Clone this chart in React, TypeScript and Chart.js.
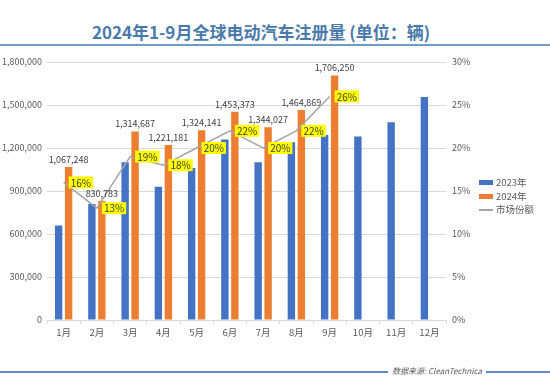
import React, { useEffect, useRef } from 'react';
import { Chart, registerables } from 'chart.js';

Chart.register(...registerables);

const FONT = '"Noto Sans CJK SC", "Noto Sans", sans-serif';

const titleText = '2024年1-9月全球电动汽车注册量 (单位：辆)';
const sourceText = '数据来源: CleanTechnica';

const months = ['1月', '2月', '3月', '4月', '5月', '6月', '7月', '8月', '9月', '10月', '11月', '12月'];
const sales2023 = [660000, 810000, 1100000, 930000, 1060000, 1260000, 1100000, 1240000, 1290000, 1280000, 1380000, 1555000];
const sales2024 = [1067248, 830783, 1314687, 1221181, 1324141, 1453373, 1344027, 1464869, 1706250];
const share2024 = [16, 13, 19, 18, 20, 22, 20, 22, 26];

const seriesNames = ['2023年', '2024年', '市场份额'];
const seriesColors = ['#4472C4', '#ED7D31', '#A5A5A5'];

const leftMax = 1800000;
const leftStep = 300000;
const rightMax = 30;
const rightStep = 5;

const labelPlugin = {
  id: 'valueLabels',
  afterDatasetsDraw(chart: any) {
    const ctx = chart.ctx;
    ctx.save();
    // percentage boxes on line points
    const lineMeta = chart.getDatasetMeta(0);
    ctx.font = `10px ${FONT}`;
    ctx.textAlign = 'left';
    ctx.textBaseline = 'middle';
    lineMeta.data.forEach((pt: any, i: number) => {
      const t = share2024[i] + '%';
      const w = ctx.measureText(t).width + 4;
      ctx.fillStyle = '#FFFF00';
      ctx.fillRect(pt.x + 5, pt.y - 6, w, 12);
      ctx.fillStyle = '#404040';
      ctx.fillText(t, pt.x + 7, pt.y + 0.5);
    });
    // value labels above 2024 bars
    const barMeta = chart.getDatasetMeta(2);
    ctx.font = `9px ${FONT}`;
    ctx.fillStyle = '#404040';
    ctx.textAlign = 'center';
    ctx.textBaseline = 'bottom';
    barMeta.data.forEach((el: any, i: number) => {
      ctx.fillText(sales2024[i].toLocaleString('en-US'), el.x, el.y - 3);
    });
    ctx.restore();
  },
};

export default function App() {
  const ref = useRef<HTMLCanvasElement>(null);

  useEffect(() => {
    document.body.style.margin = '0';
    if (!ref.current) return;
    Chart.defaults.font.family = FONT;
    const chart = new Chart(ref.current, {
      type: 'bar',
      data: {
        labels: months,
        datasets: [
          {
            type: 'line',
            label: seriesNames[2],
            data: share2024,
            yAxisID: 'y1',
            borderColor: seriesColors[2],
            backgroundColor: seriesColors[2],
            borderWidth: 1.5,
            pointRadius: 0,
            tension: 0,
            order: 0,
          } as any,
          {
            label: seriesNames[0],
            data: sales2023,
            yAxisID: 'y',
            backgroundColor: seriesColors[0],
            categoryPercentage: 0.6,
            barPercentage: 0.74,
            order: 1,
          },
          {
            label: seriesNames[1],
            data: sales2024,
            yAxisID: 'y',
            backgroundColor: seriesColors[1],
            categoryPercentage: 0.6,
            barPercentage: 0.74,
            order: 2,
          },
        ],
      },
      options: {
        animation: false,
        responsive: false,
        maintainAspectRatio: false,
        devicePixelRatio: 1,
        layout: { padding: { left: 0, right: 70, top: 62, bottom: 38 } },
        plugins: {
          legend: { display: false },
          tooltip: { enabled: false },
          title: { display: false },
        },
        scales: {
          x: {
            grid: {
              display: true,
              drawOnChartArea: false,
              drawTicks: true,
              tickLength: 4,
              color: '#d9d9d9',
              offset: true,
            },
            border: { display: true, color: '#d9d9d9' },
            ticks: { font: { size: 9.5 }, color: '#595959', padding: 3, maxRotation: 0, autoSkip: false },
            afterFit: (s: any) => {
              s.height = 20;
            },
          },
          y: {
            position: 'left',
            min: 0,
            max: leftMax,
            ticks: {
              stepSize: leftStep,
              callback: (v: any) => Number(v).toLocaleString('en-US'),
              font: { size: 9 },
              color: '#595959',
              padding: 5,
            },
            grid: { color: '#d9d9d9', drawTicks: false },
            border: { display: false },
            afterFit: (s: any) => {
              s.width = 47;
            },
          },
          y1: {
            position: 'right',
            min: 0,
            max: rightMax,
            ticks: {
              stepSize: rightStep,
              callback: (v: any) => v + '%',
              font: { size: 9 },
              color: '#595959',
              padding: 6,
            },
            grid: { drawOnChartArea: false, drawTicks: false },
            border: { display: false },
            afterFit: (s: any) => {
              s.width = 34;
            },
          },
        },
      } as any,
      plugins: [labelPlugin],
    });
    return () => chart.destroy();
  }, []);

  const legendItems = [0, 1, 2];

  return (
    <div style={{ position: 'relative', width: 550, height: 378, background: '#fff', overflow: 'hidden', fontFamily: FONT }}>
      <div
        style={{
          position: 'absolute',
          left: 0,
          top: 21,
          width: 522,
          textAlign: 'center',
          fontWeight: 'bold',
          fontSize: 17,
          lineHeight: '22px',
          color: '#4a7aab',
          whiteSpace: 'nowrap',
        }}
      >
        {titleText}
      </div>
      <div style={{ position: 'absolute', left: 0, top: 44, width: 550, height: 2, background: '#6f9bc8' }} />
      <canvas ref={ref} width={550} height={378} style={{ position: 'absolute', left: 0, top: 0, width: 550, height: 378 }} />
      <div style={{ position: 'absolute', left: 479, top: 176 }}>
        {legendItems.map((i) => (
          <div key={i} style={{ display: 'flex', alignItems: 'center', height: 13.5 }}>
            {i < 2 ? (
              <div style={{ width: 14, height: 5, background: seriesColors[i] }} />
            ) : (
              <div style={{ width: 14, height: 1.5, background: seriesColors[i] }} />
            )}
            <span style={{ marginLeft: 3, fontSize: 9.5, color: '#595959', lineHeight: '13px', whiteSpace: 'nowrap' }}>
              {seriesNames[i]}
            </span>
          </div>
        ))}
      </div>
      <div style={{ position: 'absolute', left: 0, top: 371, width: 388, height: 1.5, background: '#5b8dc0' }} />
      <div style={{ position: 'absolute', left: 486, top: 371, width: 64, height: 1.5, background: '#5b8dc0' }} />
      <div
        style={{
          position: 'absolute',
          left: 392,
          top: 365,
          fontSize: 8,
          lineHeight: '12px',
          fontStyle: 'italic',
          color: '#595959',
          whiteSpace: 'nowrap',
        }}
      >
        {sourceText}
      </div>
    </div>
  );
}
